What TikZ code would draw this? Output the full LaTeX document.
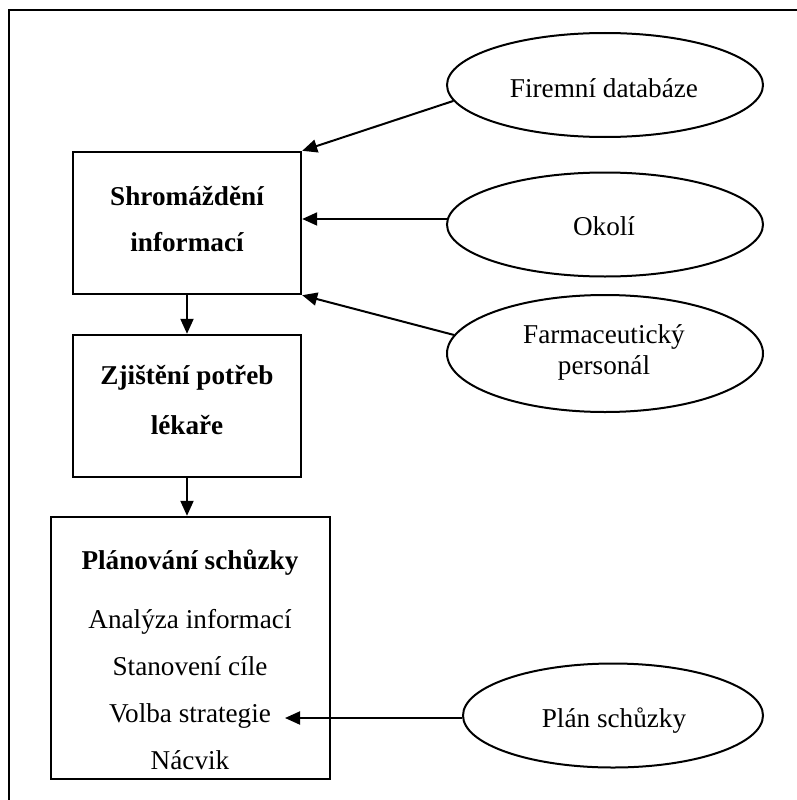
\documentclass[tikz,border=0pt]{standalone}
\usepackage{fontspec}
\setmainfont{Liberation Serif}
\usetikzlibrary{arrows.meta,shapes.geometric}
\begin{document}
\begin{tikzpicture}[x=1pt,y=-1pt,
  boxnode/.style={draw,line width=2.4pt,inner sep=0pt},
  bodytxt/.style={anchor=base,inner sep=0pt,font=\fontsize{27.2}{31}\selectfont},
  boldtxt/.style={anchor=base,inner sep=0pt,font=\fontsize{27.2}{31}\selectfont\bfseries},
  ovalnode/.style={draw,ellipse,line width=2pt,inner sep=0pt,minimum width=316pt,minimum height=104pt},
  arr/.style={-{Triangle[length=15pt,width=13pt]},line width=2pt}]
\useasboundingbox (0,0) rectangle (797,800);
\begin{scope}
\clip (0,0) rectangle (797,800);
\draw[line width=1.8pt] (9,10) rectangle (830,830);
\end{scope}

% boxes
\node[boxnode,minimum width=228pt,minimum height=142pt] (b1) at (187,223) {};
\node[boxnode,minimum width=228pt,minimum height=142pt] (b2) at (187,406) {};
\node[boxnode,minimum width=279pt,minimum height=262pt] (b3) at (190.5,648) {};

\node[boldtxt] (t1a) at (187,205) {Shromáždění};
\node[boldtxt] (t1b) at (187,251) {informací};
\node[boldtxt] (t2a) at (187,384) {Zjištění potřeb};
\node[boldtxt] (t2b) at (187,434) {lékaře};
\node[boldtxt] (t3a) at (190,569) {Plánování schůzky};
\node[bodytxt] (t3b) at (190,628) {Analýza informací};
\node[bodytxt] (t3c) at (190,675) {Stanovení cíle};
\node[bodytxt] (t3d) at (190,722) {Volba strategie};
\node[bodytxt] (t3e) at (190,769) {Nácvik};

% ellipses
\node[ovalnode] (fd) at (605,85) {};
\node[ovalnode] (ok) at (605,224.5) {};
\node[ovalnode,minimum height=117pt] (fp) at (605,353.5) {};
\node[ovalnode,minimum width=300pt] (pl) at (613,715.5) {};

\node[bodytxt] (fdt) at (604,97) {Firemní databáze};
\node[bodytxt] (okt) at (604,235) {Okolí};
\node[bodytxt] (fpa) at (604,343) {Farmaceutický};
\node[bodytxt] (fpb) at (604,374) {personál};
\node[bodytxt] (plt) at (614,727) {Plán schůzky};

% connectors
\coordinate (pe) at (285,718);
\draw[arr] (fd.186) -- (b1.north east);
\draw[arr] (ok.178) -- (ok.178 -| b1.east);
\draw[arr] (fp.173) -- (b1.south east);
\draw[arr] (b1.south) -- (b2.north);
\draw[arr] (b2.south) -- (b2.south |- b3.north);
\draw[arr] (pl.west |- pe) -- (pe);
\end{tikzpicture}
\end{document}
